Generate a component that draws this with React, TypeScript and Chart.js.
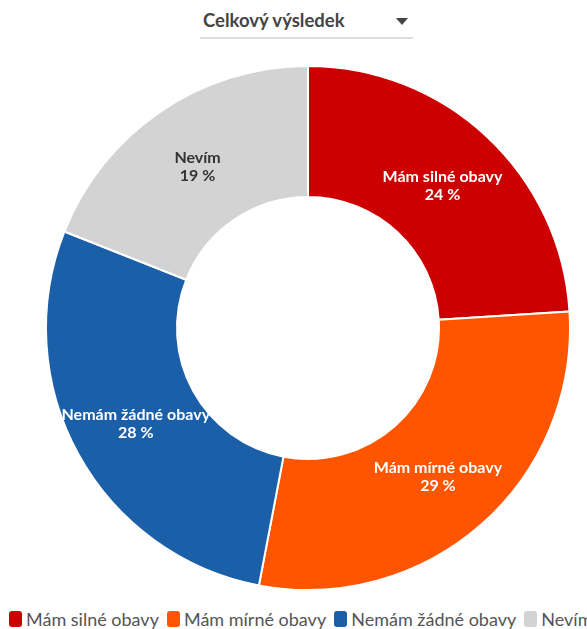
import { useEffect, useRef } from "react"
import { Chart, registerables } from "chart.js"

Chart.register(...registerables)

const categories = ["Mám silné obavy", "Mám mírné obavy", "Nemám žádné obavy", "Nevím"]
const values = [24, 29, 28, 19]
const colors = ["#cc0000", "#ff5500", "#1a5fa8", "#d3d3d3"]
const labelColors = ["#ffffff", "#ffffff", "#ffffff", "#333333"]

const FONT = "Lato, 'Noto Sans', sans-serif"

const sliceLabels = {
  id: "sliceLabels",
  afterDatasetsDraw(chart: Chart) {
    const ctx = chart.ctx
    const meta = chart.getDatasetMeta(0)
    ctx.save()
    ctx.font = `bold 16px ${FONT}`
    ctx.textAlign = "center"
    ctx.textBaseline = "middle"
    meta.data.forEach((arc: any, i: number) => {
      const p = arc.getCenterPoint()
      ctx.fillStyle = labelColors[i]
      ctx.fillText(categories[i], p.x, p.y - 8)
      ctx.fillText(values[i] + " %", p.x, p.y + 10)
    })
    ctx.restore()
  },
}

export default function App() {
  const chartRef = useRef<HTMLCanvasElement>(null)
  const chartInstance = useRef<Chart | null>(null)

  useEffect(() => {
    if (!chartRef.current) return
    if (chartInstance.current) chartInstance.current.destroy()

    chartInstance.current = new Chart(chartRef.current, {
      type: "doughnut",
      data: {
        labels: categories,
        datasets: [
          {
            data: values,
            backgroundColor: colors,
            borderColor: "#ffffff",
            borderWidth: 2,
          },
        ],
      },
      options: {
        animation: false,
        responsive: true,
        maintainAspectRatio: false,
        cutout: "50%",
        layout: { padding: { left: 29, right: 0, top: 2, bottom: 2 } },
        plugins: {
          legend: { display: false },
          tooltip: { enabled: false },
        },
      },
      plugins: [sliceLabels],
    })

    return () => {
      if (chartInstance.current) {
        chartInstance.current.destroy()
        chartInstance.current = null
      }
    }
  }, [])

  return (
    <div
      style={{
        position: "fixed",
        left: 0,
        top: 0,
        width: 587,
        height: 629,
        overflow: "hidden",
        background: "#fff",
        fontFamily: FONT,
      }}
    >
      {/* výběr */}
      <div
        style={{
          position: "absolute",
          left: 200,
          top: 8,
          width: 213,
          height: 29,
          borderBottom: "2px solid #dddddd",
        }}
      >
        <span
          style={{
            position: "absolute",
            left: 3,
            top: 1,
            fontSize: 18.5,
            fontWeight: "bold",
            color: "#444",
            whiteSpace: "nowrap",
          }}
        >
          Celkový výsledek
        </span>
        <span
          style={{
            position: "absolute",
            left: 196,
            top: 10,
            width: 0,
            height: 0,
            borderLeft: "6px solid transparent",
            borderRight: "6px solid transparent",
            borderTop: "7px solid #444",
          }}
        />
      </div>

      <div style={{ position: "absolute", left: 0, top: 63, width: 587, height: 530 }}>
        <canvas ref={chartRef} />
      </div>

      {/* legenda */}
      <div
        style={{
          position: "absolute",
          left: 9,
          top: 608,
          whiteSpace: "nowrap",
          display: "flex",
          alignItems: "center",
          fontSize: 18,
          color: "#555",
        }}
      >
        {categories.map((c, i) => (
          <span key={c} style={{ display: "inline-flex", alignItems: "center", marginRight: 8 }}>
            <span
              style={{
                display: "inline-block",
                width: 13,
                height: 16,
                borderRadius: 3,
                background: colors[i],
                marginRight: 4,
              }}
            />
            {c}
          </span>
        ))}
      </div>
    </div>
  )
}
